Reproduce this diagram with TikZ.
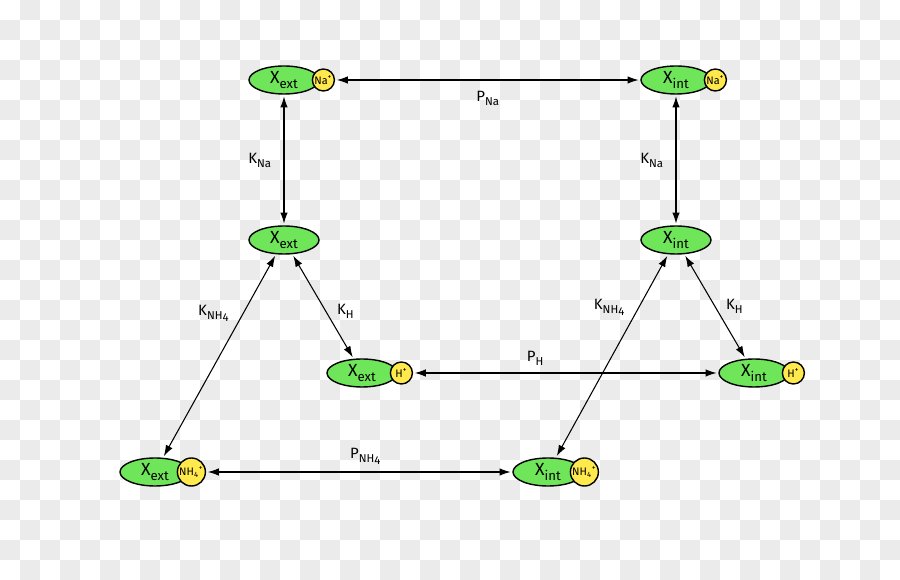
\documentclass[tikz,border=0pt]{standalone}
\usepackage{fontspec}
\setmainfont{Fira Sans}
\usetikzlibrary{arrows.meta, positioning, shapes.geometric}
\definecolor{cellgreen}{HTML}{6FE65A}
\definecolor{ionyellow}{HTML}{FFE94D}
\definecolor{checkgray}{HTML}{EBEBEB}
\newcommand{\lowsub}[1]{\raisebox{-0.5ex}{\fontsize{7.5}{8}\selectfont #1}}
\newcommand{\labsub}[1]{\raisebox{-0.5ex}{\fontsize{6.5}{7}\selectfont #1}}
\newcommand{\nhfour}{NH\raisebox{-0.3ex}{4}}
\tikzset{
  cell/.style = {ellipse, draw, line width=0.8pt, fill=cellgreen, inner sep=0pt,
                 minimum width=1.4cm, minimum height=0.56cm, font=\fontsize{10}{11}\selectfont},
  ion/.style = {circle, draw, line width=0.8pt, fill=ionyellow, inner sep=0pt,
                minimum size=0.44cm, font=\fontsize{6.2}{7}\selectfont},
  bigion/.style = {ion, minimum size=0.56cm},
  link/.style = {{Latex[length=2.2mm,width=1.5mm]}-{Latex[length=2.2mm,width=1.5mm]}, line width=0.6pt, shorten <=1pt, shorten >=1pt},
  lab/.style = {font=\fontsize{8.5}{10}\selectfont, inner sep=2pt}
}
\begin{document}
\begin{tikzpicture}[x=0.02cm, y=-0.02cm]
\useasboundingbox (0,0) rectangle (900,580);
\foreach \i in {0,...,44}{
  \foreach \j in {0,...,28}{
    \pgfmathtruncatemacro\odd{mod(\i+\j,2)}
    \ifnum\odd=1 \fill[checkgray] (\i*20,\j*20) rectangle ++(20,20); \fi
  }
}
\node[cell] (extna) at (284,80) {X\lowsub{ext}};
\node[ion, right=-0.16cm of extna.east] (na1) {Na\textsuperscript{+}};
\node[cell] (intna) at (676,80) {X\lowsub{int}};
\node[ion, right=-0.16cm of intna.east] (na2) {Na\textsuperscript{+}};
\node[cell] (ext) at (284,240) {X\lowsub{ext}};
\node[cell] (int) at (676,240) {X\lowsub{int}};
\node[cell] (exth) at (362,373) {X\lowsub{ext}};
\node[ion, right=-0.16cm of exth.east] (h1) {H\textsuperscript{+}};
\node[cell] (inth) at (754,373) {X\lowsub{int}};
\node[ion, right=-0.16cm of inth.east] (h2) {H\textsuperscript{+}};
\node[cell] (extnh) at (155,472) {X\lowsub{ext}};
\node[bigion, right=-0.28cm of extnh.east] (nh1) {NH\textsubscript{4}\textsuperscript{+}};
\node[cell] (intnh) at (548,472) {X\lowsub{int}};
\node[bigion, right=-0.28cm of intnh.east] (nh2) {NH\textsubscript{4}\textsuperscript{+}};

\draw[link] (na1) -- node[lab, below=4pt] {P\labsub{Na}} (intna);
\draw[link] (extna) -- node[lab, left=5pt] {K\labsub{Na}} (ext);
\draw[link] (intna) -- node[lab, left=5pt] {K\labsub{Na}} (int);
\draw[link] (ext) -- node[lab, left=6pt, pos=0.29] {K\labsub{\nhfour}} (extnh);
\draw[link] (ext) -- node[lab, right=4pt, pos=0.55] {K\labsub{H}} (exth);
\draw[link] (int) -- node[lab, left=6pt, pos=0.26] {K\labsub{\nhfour}} (intnh);
\draw[link] (int) -- node[lab, right=4pt, pos=0.5] {K\labsub{H}} (inth);
\draw[link] (h1) -- node[lab, above=2pt, pos=0.4] {P\labsub{H}} (inth);
\draw[link] (nh1) -- node[lab, above=2pt, pos=0.52] {P\labsub{\nhfour}} (intnh);
\end{tikzpicture}
\end{document}
